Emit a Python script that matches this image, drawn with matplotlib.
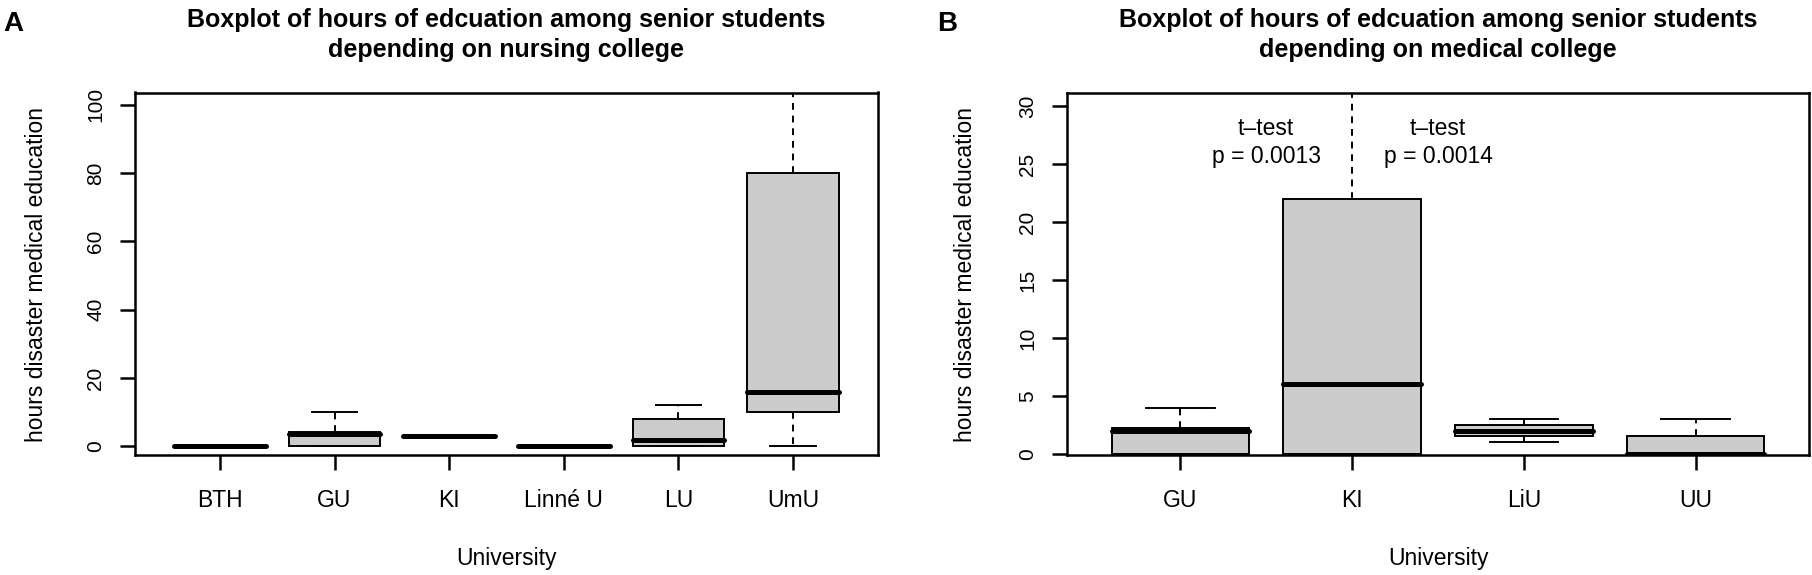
import matplotlib
matplotlib.use('Agg')
import matplotlib.pyplot as plt

plt.rcParams['font.family'] = ['Liberation Sans', 'DejaVu Sans']

W, H = 1812, 575

# nursing colleges (panel A): min, q1, median, q3, max
nurse_names = ['BTH', 'GU', 'KI', 'Linné U', 'LU', 'UmU']
nurse_min = [0, 0, 3, 0, 0, 0]
nurse_q1 = [0, 0, 3, 0, 0, 10]
nurse_med = [0, 3.6, 3, 0, 2, 16]
nurse_q3 = [0, 4.2, 3, 0, 8, 80]
nurse_max = [0, 10, 3, 0, 12, 120]
nurse_yticks = [0, 20, 40, 60, 80, 100]

# medical colleges (panel B)
med_names = ['GU', 'KI', 'LiU', 'UU']
med_min = [0, 0, 1, 0]
med_q1 = [0, 0, 1.5, 0]
med_med = [2, 6, 2, 0]
med_q3 = [2.2, 22, 2.5, 1.5]
med_max = [4, 40, 3, 3]
med_yticks = [0, 5, 10, 15, 20, 25, 30]

ttest_x = [1.5, 2.5]
ttest_p = ['0.0013', '0.0014']

title_a = 'Boxplot of hours of edcuation among senior students\ndepending on nursing college'
title_b = 'Boxplot of hours of edcuation among senior students\ndepending on medical college'
ylab = 'hours disaster medical education'


def fx(x):
    return x / W


def fy(y):
    return 1 - y / H


def make_stats(names, lo, q1, med, q3, hi):
    stats = []
    for i in range(len(names)):
        stats.append({'label': names[i], 'whislo': lo[i], 'q1': q1[i], 'med': med[i],
                      'q3': q3[i], 'whishi': hi[i], 'fliers': []})
    return stats


def draw_box(ax, stats, yticks, ylim):
    n = len(stats)
    ax.bxp(stats, positions=range(1, n + 1), widths=0.8, capwidths=0.4,
           patch_artist=True, showfliers=False,
           boxprops=dict(facecolor='#cccccc', edgecolor='black', linewidth=1.4),
           medianprops=dict(color='black', linewidth=3.6, solid_capstyle='round'),
           whiskerprops=dict(color='black', linewidth=1.4, linestyle=(0, (3.5, 3))),
           capprops=dict(color='black', linewidth=1.4))
    ax.set_xlim(0.5 - 0.04 * n, n + 0.5 + 0.04 * n)
    ax.set_ylim(ylim)
    ax.set_yticks(yticks)
    ax.set_yticklabels([str(t) for t in yticks], rotation=90, va='center')
    for s in ax.spines.values():
        s.set_linewidth(1.8)
    ax.tick_params(axis='both', direction='out', length=10.8, width=1.8, color='black')
    ax.tick_params(axis='x', labelsize=16.5, pad=13.5)
    ax.tick_params(axis='y', labelsize=15, pad=10.5)


fig = plt.figure(figsize=(W / 100, H / 100), dpi=100)

ax1 = fig.add_axes([fx(135), fy(455), fx(878 - 135), (455 - 92.5) / H])
draw_box(ax1, make_stats(nurse_names, nurse_min, nurse_q1, nurse_med, nurse_q3, nurse_max),
         nurse_yticks, (-2.5, 103.6))

ax2 = fig.add_axes([fx(1067), fy(455), fx(1809 - 1067), (455 - 92.5) / H])
draw_box(ax2, make_stats(med_names, med_min, med_q1, med_med, med_q3, med_max),
         med_yticks, (-0.1, 31.2))

for x, p in zip(ttest_x, ttest_p):
    ax2.text(x, 26.9, 't\u2013test\np = ' + p, ha='center', va='center',
             fontsize=16.5, linespacing=1.25)

# titles, panel letters and axis labels
fig.text(fx(506.5), fy(35), title_a, ha='center', va='center', fontsize=18,
         fontweight='bold', linespacing=1.36)
fig.text(fx(1438), fy(35), title_b, ha='center', va='center', fontsize=18,
         fontweight='bold', linespacing=1.36)
fig.text(fx(3), fy(31), 'A', ha='left', va='baseline', fontsize=20, fontweight='bold')
fig.text(fx(937), fy(31), 'B', ha='left', va='baseline', fontsize=20, fontweight='bold')

fig.text(fx(37), fy(274), ylab, rotation=90, ha='center', va='center', fontsize=16.5)
fig.text(fx(965), fy(274), ylab, rotation=90, ha='center', va='center', fontsize=16.5)
fig.text(fx(506.5), fy(565), 'University', ha='center', va='baseline', fontsize=16.5)
fig.text(fx(1438), fy(565), 'University', ha='center', va='baseline', fontsize=16.5)

fig.savefig('out.png', dpi=100)
